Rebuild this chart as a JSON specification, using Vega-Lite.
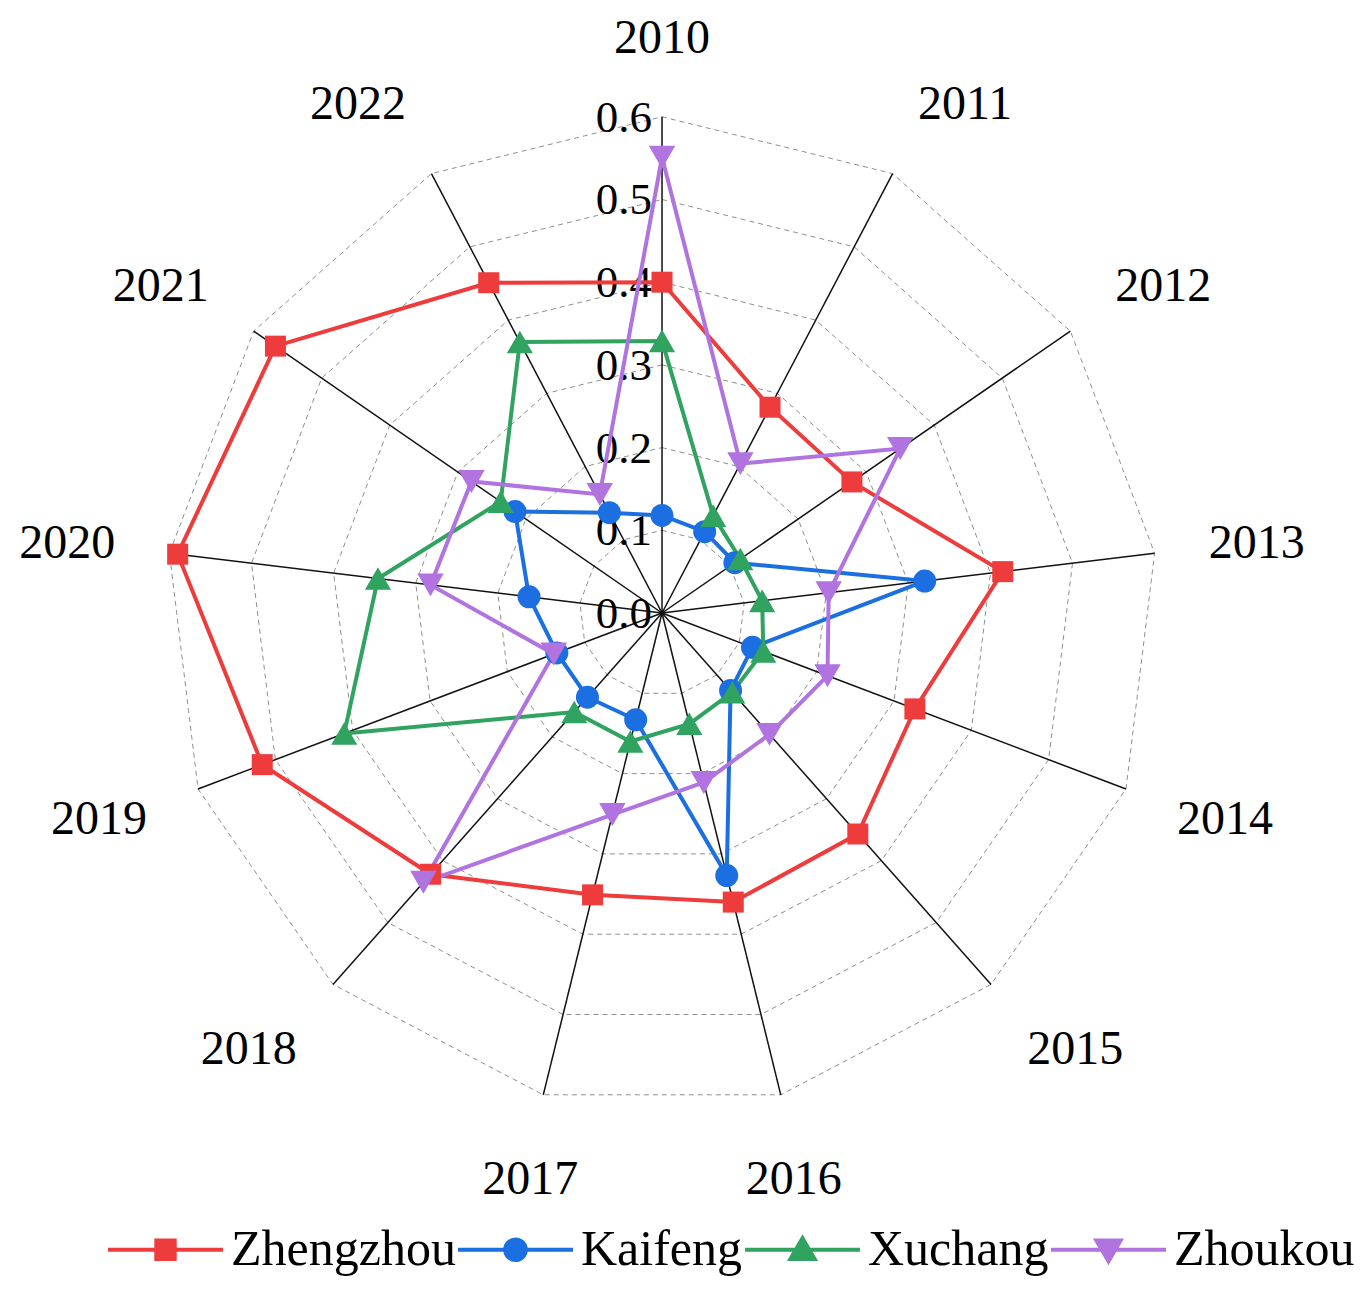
{
  "$schema": "https://vega.github.io/schema/vega-lite/v6.json",
  "width": 1362,
  "height": 1292,
  "autosize": {"type": "none"},
  "padding": 0,
  "background": "white",
  "config": {"view": {"stroke": null}, "font": "Liberation Serif"},
  "datasets": {
    "scores": [
      {"city": "Zhengzhou", "year": 2010, "value": 0.400},
      {"city": "Zhengzhou", "year": 2011, "value": 0.281},
      {"city": "Zhengzhou", "year": 2012, "value": 0.279},
      {"city": "Zhengzhou", "year": 2013, "value": 0.415},
      {"city": "Zhengzhou", "year": 2014, "value": 0.327},
      {"city": "Zhengzhou", "year": 2015, "value": 0.357},
      {"city": "Zhengzhou", "year": 2016, "value": 0.360},
      {"city": "Zhengzhou", "year": 2017, "value": 0.351},
      {"city": "Zhengzhou", "year": 2018, "value": 0.422},
      {"city": "Zhengzhou", "year": 2019, "value": 0.517},
      {"city": "Zhengzhou", "year": 2020, "value": 0.590},
      {"city": "Zhengzhou", "year": 2021, "value": 0.568},
      {"city": "Zhengzhou", "year": 2022, "value": 0.451},
      {"city": "Kaifeng", "year": 2010, "value": 0.118},
      {"city": "Kaifeng", "year": 2011, "value": 0.111},
      {"city": "Kaifeng", "year": 2012, "value": 0.107},
      {"city": "Kaifeng", "year": 2013, "value": 0.320},
      {"city": "Kaifeng", "year": 2014, "value": 0.117},
      {"city": "Kaifeng", "year": 2015, "value": 0.125},
      {"city": "Kaifeng", "year": 2016, "value": 0.327},
      {"city": "Kaifeng", "year": 2017, "value": 0.133},
      {"city": "Kaifeng", "year": 2018, "value": 0.136},
      {"city": "Kaifeng", "year": 2019, "value": 0.136},
      {"city": "Kaifeng", "year": 2020, "value": 0.162},
      {"city": "Kaifeng", "year": 2021, "value": 0.216},
      {"city": "Kaifeng", "year": 2022, "value": 0.137},
      {"city": "Xuchang", "year": 2010, "value": 0.329},
      {"city": "Xuchang", "year": 2011, "value": 0.133},
      {"city": "Xuchang", "year": 2012, "value": 0.115},
      {"city": "Xuchang", "year": 2013, "value": 0.122},
      {"city": "Xuchang", "year": 2014, "value": 0.131},
      {"city": "Xuchang", "year": 2015, "value": 0.128},
      {"city": "Xuchang", "year": 2016, "value": 0.138},
      {"city": "Xuchang", "year": 2017, "value": 0.160},
      {"city": "Xuchang", "year": 2018, "value": 0.160},
      {"city": "Xuchang", "year": 2019, "value": 0.411},
      {"city": "Xuchang", "year": 2020, "value": 0.346},
      {"city": "Xuchang", "year": 2021, "value": 0.237},
      {"city": "Xuchang", "year": 2022, "value": 0.370},
      {"city": "Zhoukou", "year": 2010, "value": 0.551},
      {"city": "Zhoukou", "year": 2011, "value": 0.204},
      {"city": "Zhoukou", "year": 2012, "value": 0.350},
      {"city": "Zhoukou", "year": 2013, "value": 0.203},
      {"city": "Zhoukou", "year": 2014, "value": 0.214},
      {"city": "Zhoukou", "year": 2015, "value": 0.196},
      {"city": "Zhoukou", "year": 2016, "value": 0.211},
      {"city": "Zhoukou", "year": 2017, "value": 0.251},
      {"city": "Zhoukou", "year": 2018, "value": 0.435},
      {"city": "Zhoukou", "year": 2019, "value": 0.140},
      {"city": "Zhoukou", "year": 2020, "value": 0.282},
      {"city": "Zhoukou", "year": 2021, "value": 0.280},
      {"city": "Zhoukou", "year": 2022, "value": 0.162}
    ],
    "axes": [
      {"year": 2010, "levels": [0.1, 0.2, 0.3, 0.4, 0.5, 0.6]},
      {"year": 2011, "levels": [0.1, 0.2, 0.3, 0.4, 0.5, 0.6]},
      {"year": 2012, "levels": [0.1, 0.2, 0.3, 0.4, 0.5, 0.6]},
      {"year": 2013, "levels": [0.1, 0.2, 0.3, 0.4, 0.5, 0.6]},
      {"year": 2014, "levels": [0.1, 0.2, 0.3, 0.4, 0.5, 0.6]},
      {"year": 2015, "levels": [0.1, 0.2, 0.3, 0.4, 0.5, 0.6]},
      {"year": 2016, "levels": [0.1, 0.2, 0.3, 0.4, 0.5, 0.6]},
      {"year": 2017, "levels": [0.1, 0.2, 0.3, 0.4, 0.5, 0.6]},
      {"year": 2018, "levels": [0.1, 0.2, 0.3, 0.4, 0.5, 0.6]},
      {"year": 2019, "levels": [0.1, 0.2, 0.3, 0.4, 0.5, 0.6]},
      {"year": 2020, "levels": [0.1, 0.2, 0.3, 0.4, 0.5, 0.6]},
      {"year": 2021, "levels": [0.1, 0.2, 0.3, 0.4, 0.5, 0.6]},
      {"year": 2022, "levels": [0.1, 0.2, 0.3, 0.4, 0.5, 0.6]}
    ],
    "ticks": [
      {"level": 0.0}, {"level": 0.1}, {"level": 0.2}, {"level": 0.3},
      {"level": 0.4}, {"level": 0.5}, {"level": 0.6}
    ]
  },
  "layer": [
    {
      "data": {"name": "axes"},
      "transform": [
        {"flatten": ["levels"], "as": ["level"]},
        {"calculate": "(datum.year - 2010) * 2 * PI / 13", "as": "ang"},
        {"calculate": "datum.level * sin(datum.ang)", "as": "gx"},
        {"calculate": "datum.level * cos(datum.ang)", "as": "gy"}
      ],
      "mark": {"type": "line", "interpolate": "linear-closed", "stroke": "#8f8f8f", "strokeWidth": 1, "strokeDash": [5, 4]},
      "encoding": {
        "x": {"field": "gx", "type": "quantitative", "scale": {"domain": [-0.8005, 0.8464], "nice": false, "zero": false}, "axis": null},
        "y": {"field": "gy", "type": "quantitative", "scale": {"domain": [-0.8210, 0.7412], "nice": false, "zero": false}, "axis": null},
        "detail": {"field": "level", "type": "nominal"},
        "order": {"field": "year", "type": "quantitative"}
      }
    },
    {
      "data": {"name": "axes"},
      "transform": [
        {"calculate": "(datum.year - 2010) * 2 * PI / 13", "as": "ang"},
        {"calculate": "0", "as": "o"},
        {"calculate": "0.6 * sin(datum.ang)", "as": "sx"},
        {"calculate": "0.6 * cos(datum.ang)", "as": "sy"}
      ],
      "mark": {"type": "rule", "stroke": "#111111", "strokeWidth": 1.5},
      "encoding": {
        "x": {"field": "o", "type": "quantitative"},
        "y": {"field": "o", "type": "quantitative"},
        "x2": {"field": "sx"},
        "y2": {"field": "sy"}
      }
    },
    {
      "data": {"name": "axes"},
      "transform": [
        {"calculate": "(datum.year - 2010) * 2 * PI / 13", "as": "ang"},
        {"calculate": "0.666 * sin(datum.ang)", "as": "lx"},
        {"calculate": "(cos(datum.ang) > 0 ? 0.694 : 0.706) * cos(datum.ang)", "as": "ly"},
        {"calculate": "sin(datum.ang) > 0.3 ? 'left' : (sin(datum.ang) < -0.3 ? 'right' : 'center')", "as": "side"}
      ],
      "layer": [
        {
          "transform": [{"filter": "datum.side === 'left'"}],
          "mark": {"type": "text", "font": "Liberation Serif", "fontSize": 48, "align": "left", "baseline": "middle", "color": "black"},
          "encoding": {
            "x": {"field": "lx", "type": "quantitative"},
            "y": {"field": "ly", "type": "quantitative"},
            "text": {"field": "year", "type": "nominal"}
          }
        },
        {
          "transform": [{"filter": "datum.side === 'right'"}],
          "mark": {"type": "text", "font": "Liberation Serif", "fontSize": 48, "align": "right", "baseline": "middle", "color": "black"},
          "encoding": {
            "x": {"field": "lx", "type": "quantitative"},
            "y": {"field": "ly", "type": "quantitative"},
            "text": {"field": "year", "type": "nominal"}
          }
        },
        {
          "transform": [{"filter": "datum.side === 'center'"}],
          "mark": {"type": "text", "font": "Liberation Serif", "fontSize": 48, "align": "center", "baseline": "middle", "color": "black"},
          "encoding": {
            "x": {"field": "lx", "type": "quantitative"},
            "y": {"field": "ly", "type": "quantitative"},
            "text": {"field": "year", "type": "nominal"}
          }
        }
      ]
    },
    {
      "data": {"name": "ticks"},
      "transform": [{"calculate": "0", "as": "o"}],
      "mark": {"type": "text", "font": "Liberation Serif", "fontSize": 45, "align": "right", "baseline": "middle", "dx": -10, "dy": 1, "color": "black"},
      "encoding": {
        "x": {"field": "o", "type": "quantitative"},
        "y": {"field": "level", "type": "quantitative"},
        "text": {"field": "level", "type": "quantitative", "format": ".1f"}
      }
    },
    {
      "data": {"name": "scores"},
      "transform": [
        {"calculate": "(datum.year - 2010) * 2 * PI / 13", "as": "ang"},
        {"calculate": "datum.value * sin(datum.ang)", "as": "px"},
        {"calculate": "datum.value * cos(datum.ang)", "as": "py"}
      ],
      "layer": [
        {
          "mark": {"type": "line", "interpolate": "linear-closed", "strokeWidth": 4},
          "encoding": {
            "x": {"field": "px", "type": "quantitative"},
            "y": {"field": "py", "type": "quantitative"},
            "color": {"field": "city", "type": "nominal"},
            "order": {"field": "year", "type": "quantitative"}
          }
        },
        {
          "transform": [{"filter": "datum.city === 'Zhengzhou'"}],
          "mark": {"type": "point", "shape": "square", "filled": true, "opacity": 1, "size": 441},
          "encoding": {
            "x": {"field": "px", "type": "quantitative"},
            "y": {"field": "py", "type": "quantitative"},
            "color": {"field": "city", "type": "nominal"}
          }
        },
        {
          "transform": [{"filter": "datum.city === 'Kaifeng'"}],
          "mark": {"type": "point", "shape": "circle", "filled": true, "opacity": 1, "size": 529},
          "encoding": {
            "x": {"field": "px", "type": "quantitative"},
            "y": {"field": "py", "type": "quantitative"},
            "color": {"field": "city", "type": "nominal"}
          }
        },
        {
          "transform": [{"filter": "datum.city === 'Xuchang'"}],
          "mark": {"type": "point", "shape": "triangle-up", "filled": true, "opacity": 1, "size": 680},
          "encoding": {
            "x": {"field": "px", "type": "quantitative"},
            "y": {"field": "py", "type": "quantitative"},
            "color": {"field": "city", "type": "nominal"}
          }
        },
        {
          "transform": [{"filter": "datum.city === 'Zhoukou'"}],
          "mark": {"type": "point", "shape": "triangle-down", "filled": true, "opacity": 1, "size": 700},
          "encoding": {
            "x": {"field": "px", "type": "quantitative"},
            "y": {"field": "py", "type": "quantitative"},
            "color": {"field": "city", "type": "nominal"}
          }
        },
        {
          "transform": [{"filter": "datum.year === 2010"}],
          "mark": {"type": "point", "filled": true, "opacity": 0, "strokeWidth": 4},
          "encoding": {
            "x": {"field": "px", "type": "quantitative"},
            "y": {"field": "py", "type": "quantitative"},
            "color": {
              "field": "city", "type": "nominal",
              "scale": {"domain": ["Zhengzhou", "Kaifeng", "Xuchang", "Zhoukou"], "range": ["#ee3c3c", "#1b6fe0", "#2fa35f", "#b073e0"]},
              "legend": {
                "title": null,
                "orient": "none",
                "legendX": 106,
                "legendY": 1190,
                "direction": "horizontal",
                "columns": 4,
                "columnPadding": -13,
                "padding": 0,
                "symbolSize": 13225,
                "symbolOpacity": 1,
                "symbolStrokeWidth": 4,
                "labelFont": "Liberation Serif",
                "labelFontSize": 50,
                "labelColor": "black",
                "labelOffset": 6,
                "labelLimit": 0
              }
            },
            "stroke": {
              "field": "city", "type": "nominal",
              "scale": {"domain": ["Zhengzhou", "Kaifeng", "Xuchang", "Zhoukou"], "range": ["#ee3c3c", "#1b6fe0", "#2fa35f", "#b073e0"]}
            },
            "shape": {
              "field": "city", "type": "nominal",
              "scale": {
                "domain": ["Zhengzhou", "Kaifeng", "Xuchang", "Zhoukou"],
                "range": [
                  "M-1,0L1,0M-0.16,-0.16L0.16,-0.16L0.16,0.16L-0.16,0.16Z",
                  "M-1,0L1,0M-0.18,0A0.18,0.18,0,1,0,0.18,0A0.18,0.18,0,1,0,-0.18,0Z",
                  "M-1,0L1,0M0,-0.2L0.21,0.16L-0.21,0.16Z",
                  "M-1,0L1,0M-0.21,-0.16L0.21,-0.16L0,0.2Z"
                ]
              }
            }
          }
        }
      ]
    }
  ]
}
